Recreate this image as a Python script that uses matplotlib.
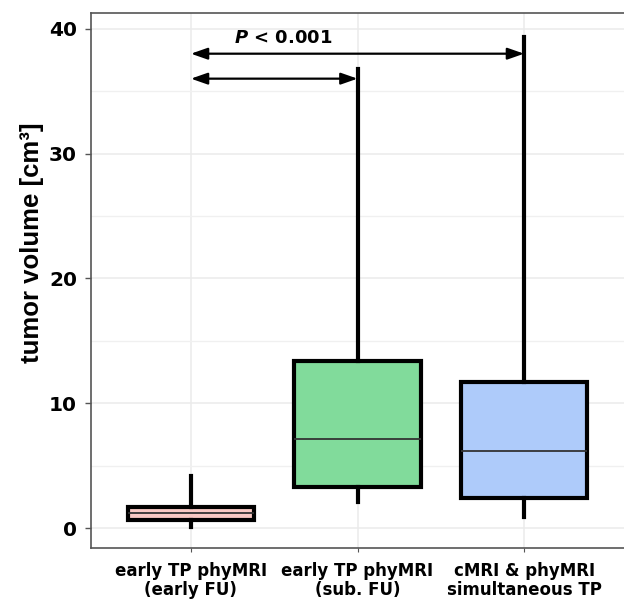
import matplotlib
matplotlib.use("Agg")
import matplotlib.pyplot as plt
from matplotlib.ticker import MultipleLocator

plt.rcParams['font.family'] = ['DejaVu Sans']

categories = ["early TP phyMRI\n(early FU)", "early TP phyMRI\n(sub. FU)", "cMRI & phyMRI\nsimultaneous TP"]
whis_low = [0.1, 2.1, 0.9]
q1 = [0.65, 3.3, 2.4]
median = [1.2, 7.1, 6.2]
q3 = [1.7, 13.4, 11.7]
whis_high = [4.2, 36.8, 39.3]
colors = ["#F9C9C4", "#81DB9B", "#AECBFA"]
p_text = "< 0.001"

fig = plt.figure(figsize=(6.24, 6.05), dpi=100)
ax = fig.add_axes([91/624, 1-548/605, 1-91/624, (548-12.5)/605])

stats = []
for i, c in enumerate(categories):
    stats.append(dict(label=c, whislo=whis_low[i], q1=q1[i], med=median[i],
                      q3=q3[i], whishi=whis_high[i], fliers=[]))

positions = [1, 2, 3]
bp = ax.bxp(stats, positions=positions, widths=0.76, patch_artist=True,
            showcaps=False, showfliers=False,
            boxprops=dict(linewidth=3, edgecolor='black'),
            whiskerprops=dict(linewidth=3, color='black'),
            medianprops=dict(linewidth=1.3, color='#333333'),
            zorder=3)
for patch, col in zip(bp['boxes'], colors):
    patch.set_facecolor(col)

ax.set_xlim(0.4, 3.6)
ax.set_ylim(-1.6, 41.3)
ax.yaxis.set_major_locator(MultipleLocator(10))
ax.yaxis.set_minor_locator(MultipleLocator(5))
ax.grid(True, which='major', color='#EBEBEB', linewidth=1.1, zorder=0)
ax.grid(True, which='minor', axis='y', color='#F0F0F0', linewidth=1.0, zorder=0)
ax.set_axisbelow(True)

ax.set_xticks(positions)
ax.set_xticklabels(categories, fontsize=12, fontweight='bold', linespacing=1.1)
ax.tick_params(axis='y', labelsize=14.5, width=1, length=4, color='#555555', pad=6)
for lab in ax.get_yticklabels():
    lab.set_fontweight('bold')
ax.tick_params(axis='x', length=3, color='#555555', pad=7)
ax.tick_params(axis='y', which='minor', length=0)
ax.set_ylabel("tumor volume [cm³]", fontsize=18.5, fontweight='bold',
              family=['Liberation Sans', 'DejaVu Sans'])
ax.yaxis.set_label_coords(-0.088, 0.57)

for s in ['left', 'bottom', 'top']:
    ax.spines[s].set_color('#555555')
    ax.spines[s].set_linewidth(1.2)
ax.spines['right'].set_visible(False)

# significance arrows
y_top = 38.0
y_bot = 36.0
astyle = '<|-|>,head_length=1.0,head_width=0.35'
ax.annotate('', xy=(1.0, y_top), xytext=(3.0, y_top),
            arrowprops=dict(arrowstyle=astyle, color='black', lw=1.6,
                            mutation_scale=10, shrinkA=0, shrinkB=0), zorder=4)
ax.annotate('', xy=(1.0, y_bot), xytext=(2.0, y_bot),
            arrowprops=dict(arrowstyle=astyle, color='black', lw=1.6,
                            mutation_scale=10, shrinkA=0, shrinkB=0), zorder=4)
ax.text(1.555, 38.55, "$\\bfit{P}$ " + p_text, ha='center', va='bottom',
        fontsize=13, fontweight='bold')

fig.savefig("out.png", dpi=100)
